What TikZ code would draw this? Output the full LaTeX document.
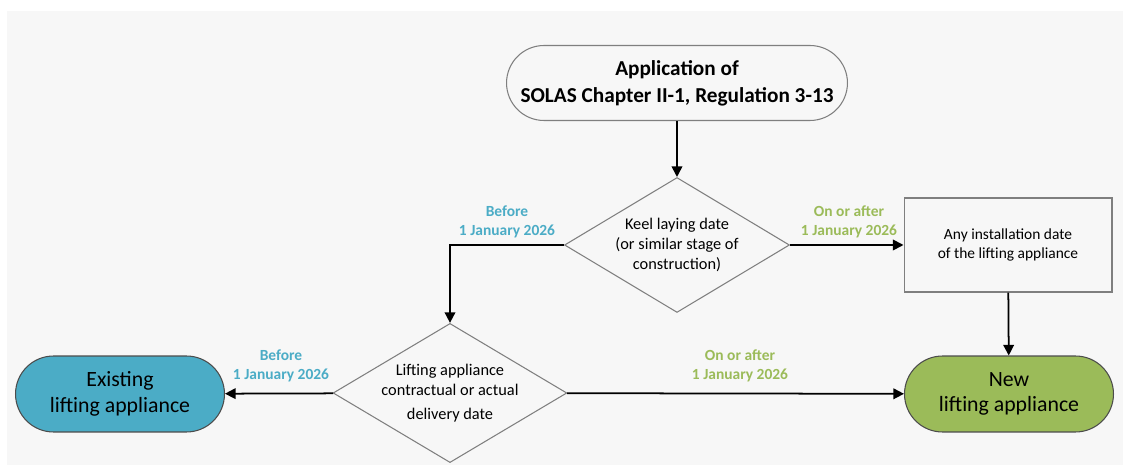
\documentclass[tikz,border=0pt]{standalone}
\usepackage{fontspec}
\setmainfont{Carlito}
\usetikzlibrary{shapes.geometric,arrows.meta}
\definecolor{bggray}{HTML}{F7F7F7}
\definecolor{lineg}{HTML}{7F7F7F}
\definecolor{lblue}{HTML}{4BACC6}
\definecolor{lgreen}{HTML}{9BBB59}

\begin{document}
\begin{tikzpicture}[x=0.02cm,y=-0.02cm,
  term/.style={draw=lineg, line width=0.6pt, rectangle, rounded corners=0.75cm,
    minimum width=6.82cm, minimum height=1.5cm, align=center},
  endterm/.style={draw=black!70, line width=0.6pt, rectangle, rounded corners=0.76cm,
    minimum width=4.18cm, minimum height=1.52cm, align=center,
    font=\fontsize{12.4}{14.6}\selectfont},
  dia/.style={draw=lineg, line width=0.6pt, diamond, aspect=1.68, inner sep=0pt,
    minimum width=4.5cm, minimum height=2.7cm, align=center,
    font=\fontsize{9.3}{11.4}\selectfont},
  boxx/.style={draw=lineg, line width=0.6pt, rectangle,
    minimum width=4.16cm, minimum height=1.88cm, align=center,
    font=\fontsize{8.8}{10.4}\selectfont},
  lab/.style={align=center, font=\bfseries\fontsize{8.8}{11.2}\selectfont},
  arr/.style={line width=1pt, -{Triangle[length=6pt,width=6pt]}}]

  %% background
  \useasboundingbox (0,0) rectangle (1123,465);
  \fill[bggray] (7,11) rectangle (1123,465);

  %% shapes
  \node[term, font=\bfseries\fontsize{12.1}{15.4}\selectfont] (solas) at (677,83)
    {Application of\\SOLAS Chapter II-1, Regulation 3-13};
  \node[dia] (keel) at (677,245)
    {Keel laying date\\(or similar stage of\\construction)};
  \node[boxx] (install) at (1008,245)
    {Any installation date\\of the lifting appliance};
  \node[dia] (delivery) at (450,393)
    {Lifting appliance\\contractual or actual\\[2pt]delivery date};
  \node[endterm, fill=lblue] (existing) at (120,394)
    {Existing\\lifting appliance};
  \node[endterm, fill=lgreen] (new) at (1009,394)
    {New\\lifting appliance};

  %% labels
  \node[lab, text=lblue] (before1) at (507,222) {Before\\1 January 2026};
  \node[lab, text=lgreen] (after1) at (849,222) {On or after\\1 January 2026};
  \node[lab, text=lblue] (before2) at (281,366) {Before\\1 January 2026};
  \node[lab, text=lgreen] (after2) at (740,366) {On or after\\1 January 2026};

  %% arrows
  \draw[arr] (solas) -- (keel);
  \draw[arr] (keel) -- (install);
  \draw[arr] (keel.west) -| (delivery.north);
  \draw[arr] (install) -- (new);
  \draw[arr] (delivery) -- (existing);
  \draw[arr] (delivery) -- (new);

\end{tikzpicture}
\end{document}
